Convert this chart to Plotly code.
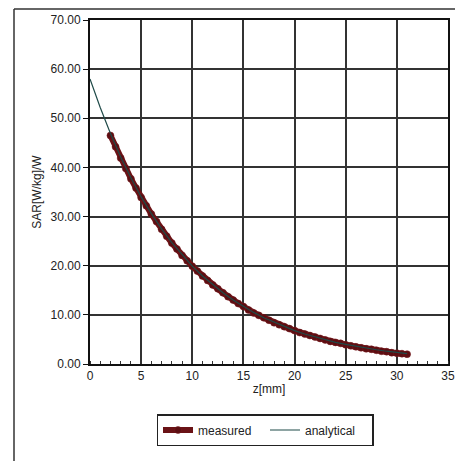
"""SAR vs depth chart"""

import plotly.graph_objects as go

# ── data ─────────────────────────────────────────────
z_measured = [
    2.0, 2.5, 3.0, 3.5, 4.0, 4.5, 5.0, 5.5, 6.0, 6.5, 7.0, 7.5, 8.0, 8.5, 9.0, 9.5,
    10.0, 10.5, 11.0, 11.5, 12.0, 12.5, 13.0, 13.5, 14.0, 14.5, 15.0, 15.5, 16.0,
    16.5, 17.0, 17.5, 18.0, 18.5, 19.0, 19.5, 20.0, 20.5, 21.0, 21.5, 22.0, 22.5,
    23.0, 23.5, 24.0, 24.5, 25.0, 25.5, 26.0, 26.5, 27.0, 27.5, 28.0, 28.5, 29.0,
    29.5, 30.0, 30.5, 31.0,
]
sar_measured = [
    46.5, 44.2, 41.9, 39.8, 37.7, 35.8, 33.9, 32.2, 30.5, 29.0, 27.4, 26.0, 24.6,
    23.4, 22.1, 21.0, 19.9, 18.9, 17.9, 17.0, 16.1, 15.3, 14.5, 13.7, 13.0, 12.3,
    11.7, 11.0, 10.4, 9.9, 9.4, 8.9, 8.4, 8.0, 7.6, 7.2, 6.8, 6.4, 6.1, 5.8, 5.5,
    5.2, 4.9, 4.6, 4.4, 4.2, 3.9, 3.7, 3.5, 3.3, 3.1, 3.0, 2.8, 2.6, 2.5, 2.3,
    2.2, 2.1, 2.0,
]
z_analytical = list(range(0, 32))
sar_analytical = [
    58.0, 52.2, 46.9, 42.1, 37.9, 34.0, 30.6, 27.5, 24.7, 22.2, 19.9, 17.9, 16.1,
    14.5, 13.0, 11.7, 10.5, 9.4, 8.5, 7.6, 6.8, 6.1, 5.5, 4.9, 4.4, 4.0, 3.6, 3.2,
    2.9, 2.6, 2.3, 2.1,
]
x_ticks = [0, 5, 10, 15, 20, 25, 30, 35]
y_ticks = [0, 10, 20, 30, 40, 50, 60, 70]
y_tick_labels = ["0.00", "10.00", "20.00", "30.00", "40.00", "50.00", "60.00", "70.00"]

FONT = "Liberation Sans, Arial, sans-serif"
OFF = 8  # page body margin in front of the plot div
W, H = 463 - OFF, 461 - OFF
L, T = 90 - OFF, 20 - OFF
R, B = W - L - 358, H - T - 344

fig = go.Figure()
fig.add_trace(
    go.Scatter(
        x=z_measured,
        y=sar_measured,
        mode="lines+markers",
        name="measured",
        line=dict(color="#6a1216", width=6),
        marker=dict(color="#5c0e12", size=7, line=dict(color="#7a1a1e", width=0.5)),
    )
)
fig.add_trace(
    go.Scatter(
        x=z_analytical,
        y=sar_analytical,
        mode="lines",
        name="analytical",
        line=dict(color="#1f4a48", width=1.2),
    )
)


# page pixel -> paper coords
def px(x):
    return (x - OFF - L) / (W - L - R)


def py(y):
    return (H - B - (y - OFF)) / (H - T - B)


frame = dict(color="#333", width=1.5)
fig.add_shape(type="line", xref="paper", yref="paper", x0=px(14), x1=px(14), y0=py(9), y1=py(461), line=frame)
fig.add_shape(type="line", xref="paper", yref="paper", x0=px(14), x1=px(462), y0=py(9), y1=py(9), line=frame)

fig.update_layout(
    width=W,
    height=H,
    margin=dict(l=L, r=R, t=T, b=B, autoexpand=False),
    paper_bgcolor="white",
    plot_bgcolor="white",
    font=dict(family=FONT, size=12, color="#222"),
    showlegend=True,
    legend=dict(
        orientation="h",
        x=px(265),
        xanchor="center",
        y=py(414),
        yanchor="top",
        bordercolor="#222",
        borderwidth=1.5,
        bgcolor="white",
        font=dict(size=12),
        itemwidth=30,
        entrywidth=62,
        tracegroupgap=0,
    ),
    xaxis=dict(
        range=[0, 35],
        tickvals=x_ticks,
        showgrid=True,
        gridcolor="#333",
        gridwidth=1.5,
        showline=True,
        linecolor="#111",
        linewidth=2,
        mirror=True,
        ticks="",
        zeroline=False,
        automargin=False,
        minor=dict(dtick=1, ticks="inside", ticklen=3, tickcolor="#333", showgrid=False),
        title=dict(text="z[mm]", standoff=2, font=dict(size=12)),
    ),
    yaxis=dict(
        range=[0, 70],
        tickvals=y_ticks,
        ticktext=y_tick_labels,
        showgrid=True,
        gridcolor="#333",
        gridwidth=1.5,
        showline=True,
        linecolor="#111",
        linewidth=2,
        mirror=True,
        ticks="outside",
        ticklen=5,
        tickcolor="#111",
        zeroline=False,
        automargin=False,
        title=dict(text="SAR[W/kg]/W", standoff=6, font=dict(size=12)),
    ),
)

fig.write_html("out.html")
